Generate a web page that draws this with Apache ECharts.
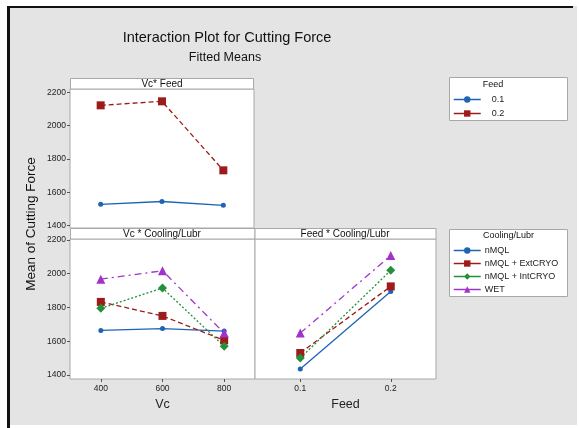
<!DOCTYPE html>
<html>
<head>
<meta charset="utf-8">
<script src="https://cdn.jsdelivr.net/npm/echarts@6/dist/echarts.min.js"></script>
<style>html,body{margin:0;padding:0;background:#fff}#c{width:579px;height:428px}</style>
</head>
<body>
<div id="c"></div>
<script>
const vcCats = ['400', '600', '800'];
const feedCats = ['0.1', '0.2'];
const yTicks = [1400, 1600, 1800, 2000, 2200];
const feedLevels = ['0.1', '0.2'];
const coolLevels = ['nMQL', 'nMQL + ExtCRYO', 'nMQL + IntCRYO', 'WET'];
// Vc * Feed
const vcFeed01 = [1528, 1545, 1522];
const vcFeed02 = [2122, 2146, 1732];
// Vc * Cooling/Lubr
const vcNMQL = [1664, 1675, 1660];
const vcExt = [1833, 1750, 1605];
const vcInt = [1795, 1915, 1570];
const vcWet = [1968, 2018, 1648];
// Feed * Cooling/Lubr
const feedNMQL = [1435, 1895];
const feedExt = [1530, 1925];
const feedInt = [1500, 2020];
const feedWet = [1648, 2108];

const FONT = '"Liberation Sans",sans-serif';
const C = { blue: '#1f63b3', red: '#9e1b1b', green: '#23913a', purple: '#a133cc' };
const styles = {
  blue:   { color: C.blue, symbol: 'circle', symbolSize: 5, lineStyle: { color: C.blue, width: 1.3, type: 'solid' } },
  red:    { color: C.red, symbol: 'rect', symbolSize: 8, lineStyle: { color: C.red, width: 1.3, type: [5, 3] } },
  green:  { color: C.green, symbol: 'diamond', symbolSize: 9, lineStyle: { color: C.green, width: 1.3, type: [2, 2] } },
  purple: { color: C.purple, symbol: 'triangle', symbolSize: 9, lineStyle: { color: C.purple, width: 1.3, type: [7, 4, 2, 4] } }
};
function mk(name, data, xi, st) {
  return Object.assign({ type: 'line', name: name, data: data, xAxisIndex: xi, yAxisIndex: xi,
    itemStyle: { color: st.color }, emphasis: { disabled: true }, animation: false }, st,
    { lineStyle: st.lineStyle });
}
const axLabel = { fontFamily: FONT, fontSize: 8.5, color: '#222' };
function yAxis(idx, min, max, show) {
  return { type: 'value', gridIndex: idx, min: min, max: max,
    axisLine: { show: false }, splitLine: { show: false },
    axisTick: { show: show, customValues: yTicks, length: 3, lineStyle: { color: '#555' } },
    axisLabel: { show: show, customValues: yTicks, margin: 4, formatter: function (v) { return String(v); }, ...axLabel } };
}
function xAxis(idx, cats, show, name) {
  return { type: 'category', gridIndex: idx, data: cats, boundaryGap: true,
    axisLine: { show: false }, splitLine: { show: false },
    axisTick: { show: show, alignWithLabel: true, length: 3, lineStyle: { color: '#555' } },
    axisLabel: { show: show, margin: 5, ...axLabel },
    name: name, nameLocation: 'middle', nameGap: 19,
    nameTextStyle: { fontFamily: FONT, fontSize: 12.5, color: '#222' } };
}
const gridBase = { show: true, backgroundColor: '#fff', borderColor: '#a8a8a8', borderWidth: 1 };
const legText = { fontFamily: FONT, fontSize: 9, color: '#222' };
const chart = echarts.init(document.getElementById('c'));
chart.setOption({
  backgroundColor: '#fff',
  animation: false,
  grid: [
    Object.assign({ left: 70, top: 89, width: 184, height: 139 }, gridBase),
    Object.assign({ left: 70, top: 239, width: 185, height: 140 }, gridBase),
    Object.assign({ left: 255, top: 239, width: 181, height: 140 }, gridBase)
  ],
  xAxis: [xAxis(0, vcCats, false, ''), xAxis(1, vcCats, true, 'Vc'), xAxis(2, feedCats, true, 'Feed')],
  yAxis: [yAxis(0, 1386, 2220, true), yAxis(1, 1376, 2206, true), yAxis(2, 1376, 2206, false)],
  legend: [
    { orient: 'vertical', left: 453, top: 95, padding: 0, itemGap: 5, itemWidth: 27, itemHeight: 8,
      data: feedLevels, selectedMode: false, lineStyle: { type: 'solid', width: 1.5 },
      textStyle: Object.assign({ padding: [0, 0, 0, 6] }, legText) },
    { orient: 'vertical', left: 453, top: 246, padding: 0, itemGap: 4, itemWidth: 27, itemHeight: 8,
      data: coolLevels, selectedMode: false, lineStyle: { type: 'solid', width: 1.5 },
      textStyle: Object.assign({ padding: [0, 0, 0, -1] }, legText) }
  ],
  graphic: [
    { type: 'rect', z: -10, shape: { x: 8, y: 6, width: 569, height: 419 }, style: { fill: '#e4e4e4' } },
    { type: 'rect', z: -9, shape: { x: 7, y: 6, width: 566, height: 2 }, style: { fill: '#111' } },
    { type: 'rect', z: -9, shape: { x: 7, y: 6, width: 3, height: 422 }, style: { fill: '#111' } },
    { type: 'text', z: 10, x: 227, y: 38, style: { text: 'Interaction Plot for Cutting Force', fontFamily: FONT, fontSize: 14.5, fill: '#111', align: 'center', verticalAlign: 'middle' } },
    { type: 'text', z: 10, x: 225, y: 58, style: { text: 'Fitted Means', fontFamily: FONT, fontSize: 12.5, fill: '#111', align: 'center', verticalAlign: 'middle' } },
    { type: 'text', z: 10, x: 31, y: 224, rotation: Math.PI / 2, style: { text: 'Mean of Cutting Force', fontFamily: FONT, fontSize: 13.5, fill: '#111', align: 'center', verticalAlign: 'middle' } },
    // panel headers
    { type: 'rect', z: 5, shape: { x: 70.5, y: 78.5, width: 183, height: 10.5 }, style: { fill: '#fff', stroke: '#a8a8a8', lineWidth: 1 } },
    { type: 'text', z: 6, x: 162, y: 84, style: { text: 'Vc* Feed', fontFamily: FONT, fontSize: 10, fill: '#111', align: 'center', verticalAlign: 'middle' } },
    { type: 'rect', z: 5, shape: { x: 70.5, y: 228.5, width: 184.5, height: 10.5 }, style: { fill: '#fff', stroke: '#a8a8a8', lineWidth: 1 } },
    { type: 'rect', z: 5, shape: { x: 255, y: 228.5, width: 181, height: 10.5 }, style: { fill: '#fff', stroke: '#a8a8a8', lineWidth: 1 } },
    { type: 'text', z: 6, x: 162, y: 234, style: { text: 'Vc * Cooling/Lubr', fontFamily: FONT, fontSize: 10, fill: '#111', align: 'center', verticalAlign: 'middle' } },
    { type: 'text', z: 6, x: 345, y: 234, style: { text: 'Feed * Cooling/Lubr', fontFamily: FONT, fontSize: 10, fill: '#111', align: 'center', verticalAlign: 'middle' } },
    // legend boxes
    { type: 'rect', z: -5, shape: { x: 449.5, y: 77.5, width: 118, height: 43 }, style: { fill: '#fff', stroke: '#a8a8a8', lineWidth: 1 } },
    { type: 'text', z: 6, x: 493, y: 85, style: { text: 'Feed', fontFamily: FONT, fontSize: 9, fill: '#111', align: 'center', verticalAlign: 'middle' } },
    { type: 'rect', z: -5, shape: { x: 449.5, y: 229.5, width: 118, height: 67 }, style: { fill: '#fff', stroke: '#a8a8a8', lineWidth: 1 } },
    { type: 'text', z: 6, x: 483, y: 236, style: { text: 'Cooling/Lubr', fontFamily: FONT, fontSize: 9, fill: '#111', align: 'left', verticalAlign: 'middle' } }
  ],
  series: [
    mk(feedLevels[0], vcFeed01, 0, styles.blue),
    mk(feedLevels[1], vcFeed02, 0, styles.red),
    mk(coolLevels[0], vcNMQL, 1, styles.blue),
    mk(coolLevels[1], vcExt, 1, styles.red),
    mk(coolLevels[2], vcInt, 1, styles.green),
    mk(coolLevels[3], vcWet, 1, styles.purple),
    mk(coolLevels[0], feedNMQL, 2, styles.blue),
    mk(coolLevels[1], feedExt, 2, styles.red),
    mk(coolLevels[2], feedInt, 2, styles.green),
    mk(coolLevels[3], feedWet, 2, styles.purple)
  ]
});
</script>
</body>
</html>
